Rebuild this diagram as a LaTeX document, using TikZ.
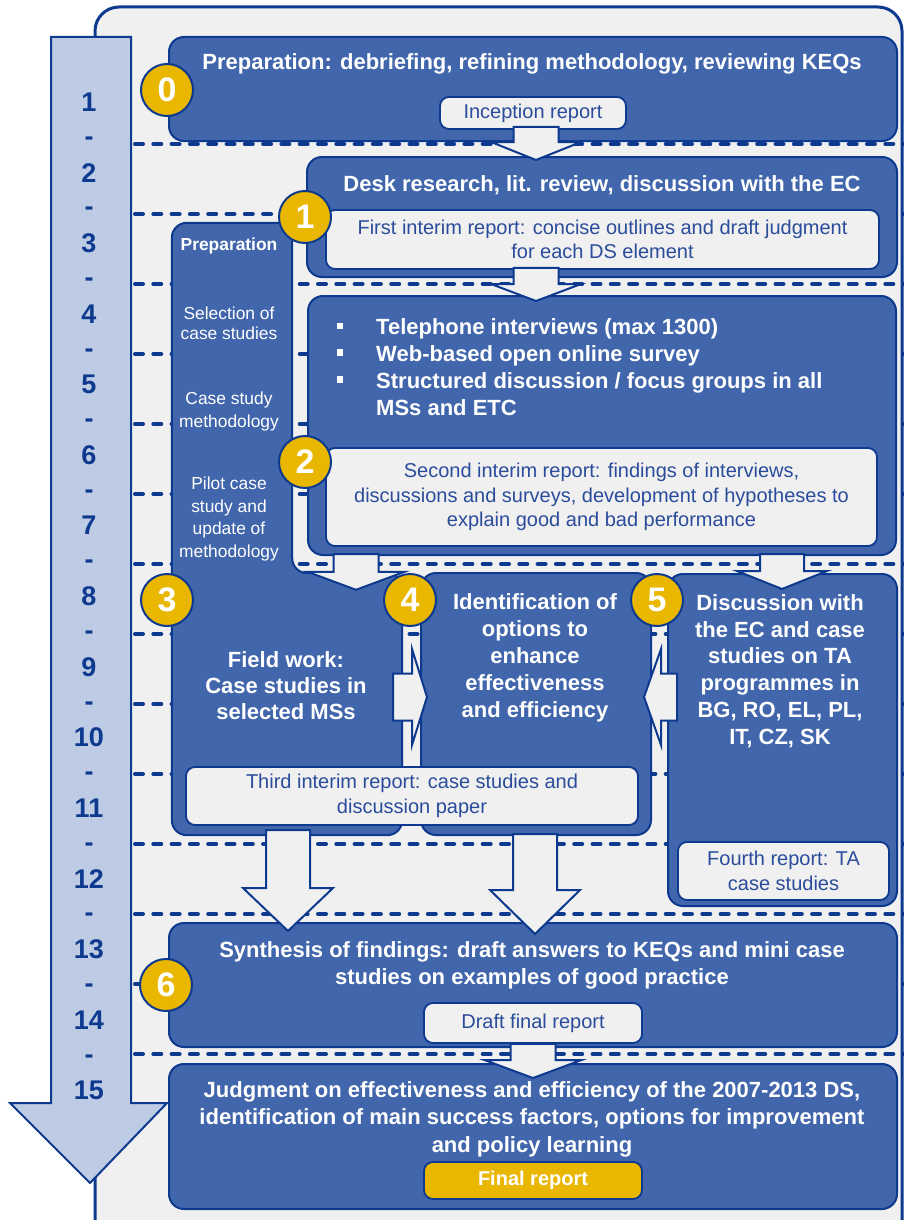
\documentclass[tikz,border=0pt]{standalone}
\usepackage{fontspec}
\setmainfont{Liberation Sans}
\usepackage{xcolor}
\usepackage{tikz}
\usetikzlibrary{calc,positioning}
\definecolor{edgeblue}{HTML}{0D3A8E}
\definecolor{boxblue}{HTML}{4166AB}
\definecolor{panelgray}{HTML}{F0F0F0}
\definecolor{gold}{HTML}{E9B600}
\definecolor{timeblue}{HTML}{BECBE4}
\definecolor{reporttext}{HTML}{2A4C9B}

\tikzset{
  stagebox/.style={draw=edgeblue,fill=boxblue,line width=2pt,rounded corners=15pt,inner sep=0pt},
  reportbox/.style={draw=edgeblue,fill=panelgray,line width=1.8pt,rounded corners=9pt,inner sep=0pt,
    text=reporttext,align=center,font=\fontsize{20}{24.5}\selectfont},
  finalbox/.style={reportbox,fill=gold,text=white,font=\fontsize{20}{24.5}\selectfont\bfseries},
  titletext/.style={text=white,align=center,inner sep=0pt,font=\fontsize{22}{26.8}\selectfont\bfseries},
  preptext/.style={text=white,align=center,inner sep=0pt,font=\fontsize{17.4}{22}\selectfont},
  stepdisc/.style={circle,draw=edgeblue,fill=gold,line width=2pt,minimum size=52pt,inner sep=0pt,
    text=white,font=\fontsize{34}{34}\selectfont\bfseries},
  monthnum/.style={text=edgeblue,inner sep=0pt,font=\fontsize{27}{27}\selectfont\bfseries},
  monthline/.style={draw=edgeblue,line width=4pt,line cap=round,dash pattern=on 8pt off 10.3pt},
  blockarrow/.style={draw=edgeblue,fill=panelgray,line width=2pt,line join=miter}
}

% block arrow: tail, tip, shaft half width, head half width, head length
\newcommand{\blockarrow}[5]{%
  \coordinate (ba-t) at (#1);
  \coordinate (ba-h) at (#2);
  \coordinate (ba-b) at ($(ba-h)!#5!(ba-t)$);
  \draw[blockarrow] ($(ba-t)!#3!90:(ba-h)$) -- ($(ba-b)!#3!-90:(ba-t)$)
    -- ($(ba-b)!#4!-90:(ba-t)$) -- (ba-h) -- ($(ba-b)!#4!90:(ba-t)$)
    -- ($(ba-b)!#3!90:(ba-t)$) -- ($(ba-t)!#3!-90:(ba-h)$) -- cycle;
}
\newcommand{\sqbullet}{\makebox[39.25pt][l]{\raisebox{5.5pt}{\rule{6.5pt}{6.5pt}}}}

\begin{document}
\begin{tikzpicture}[x=1pt,y=-1pt]
  \useasboundingbox (0,0) rectangle (904,1220);
  \clip (0,0) rectangle (904,1220);
  % background panel and month grid
  \draw[draw=edgeblue,fill=panelgray,line width=3pt,rounded corners=24pt] (95,7) rectangle (902,1245);
  \foreach \k in {0,...,13}
    \draw[monthline] (135,{144+70*\k}) -- (906,{144+70*\k});
  % time axis
  \draw[draw=edgeblue,fill=timeblue,line width=2pt,line join=miter]
    (51,37) -- (131,37) -- (131,1103) -- (167,1103) -- (90,1183) -- (10,1103) -- (51,1103) -- cycle;
  \foreach \m in {1,...,15}
    \node[monthnum] (m\m) at (89,{102+70.6*(\m-1)}) {\m};
  \foreach \m in {1,...,14}
    \node[monthnum] (d\m) at (89,{141+70.6*(\m-1)}) {-};

  % stages
  \node[stagebox,minimum width=728pt,minimum height=104pt] (s0) at (533,89) {};
  \node[stagebox,minimum width=590pt,minimum height=120pt] (s1) at (602,217) {};
  \node[stagebox,minimum width=588pt,minimum height=259pt] (s2) at (602,425.5) {};
  \node[minimum width=120pt,minimum height=350pt,inner sep=0pt] (prep) at (232,398) {};
  \node[minimum width=230pt,minimum height=262pt,inner sep=0pt] (s3) at (287,704) {};
  \draw[stagebox] (prep.north west) -- (prep.north east) -- (prep.south east)
    -- (s3.north east) -- (s3.south east) -- (s3.south west) -- cycle;
  \node[stagebox,minimum width=230pt,minimum height=262pt] (s4) at (536,704) {};
  \node[stagebox,minimum width=229pt,minimum height=332pt] (s5) at (782.5,740) {};
  \node[stagebox,minimum width=728pt,minimum height=124pt] (s6) at (533,985) {};
  \node[stagebox,minimum width=728pt,minimum height=145pt] (s7) at (533,1136.5) {};

  % reports
  \node[reportbox,minimum width=186pt,minimum height=32pt] (incep) at (533,113) {Inception report};
  \node[reportbox,minimum width=553pt,minimum height=59pt] (r1) at (602.5,239.5)
    {First interim report: concise outlines and draft judgment\\for each DS element};
  \node[reportbox,minimum width=551pt,minimum height=98pt] (r2) at (601.5,497)
    {Second interim report: findings of interviews,\\discussions and surveys, development of hypotheses to\\explain good and bad performance};
  \node[reportbox,minimum width=452pt,minimum height=58pt] (r3) at (412,796)
    {Third interim report: case studies and\\discussion paper};
  \node[reportbox,minimum width=211pt,minimum height=58pt] (r5) at (783.5,871)
    {Fourth report: TA\\case studies};
  \node[reportbox,minimum width=218pt,minimum height=40pt] (r6) at (533,1023) {Draft final report};
  \node[finalbox,minimum width=218pt,minimum height=37pt] (r7) at (533,1180.5) {Final report};

  % stage texts
  \node[titletext] (t0) at (532,64) {Preparation: debriefing, refining methodology, reviewing KEQs};
  \node[titletext] (t1) at (602,185) {Desk research, lit. review, discussion with the EC};
  \node[titletext,align=left,anchor=west] (t2) at (336.75,367)
    {\sqbullet Telephone interviews (max 1300)\\\sqbullet Web-based open online survey\\
     \sqbullet Structured discussion / focus groups in all\\\hspace*{39.25pt}MSs and ETC};
  \node[preptext,font=\fontsize{17.4}{22}\selectfont\bfseries] (p1) at (229,246) {Preparation};
  \node[preptext,font=\fontsize{17.4}{20}\selectfont] (p2) at (229,323) {Selection of\\case studies};
  \node[preptext,font=\fontsize{17.4}{23}\selectfont] (p3) at (229,411) {Case study\\methodology};
  \node[preptext,font=\fontsize{17.4}{22.7}\selectfont] (p4) at (229,519) {Pilot case\\study and\\update of\\methodology};
  \node[titletext,font=\fontsize{22}{26}\selectfont\bfseries] (t3) at (286,686) {Field work:\\Case studies in\\selected MSs};
  \node[titletext,font=\fontsize{22}{27}\selectfont\bfseries] (t4) at (535,658)
    {Identification of\\options to\\enhance\\effectiveness\\and efficiency};
  \node[titletext,font=\fontsize{22}{26.8}\selectfont\bfseries] (t5) at (780,671)
    {Discussion with\\the EC and case\\studies on TA\\programmes in\\BG, RO, EL, PL,\\IT, CZ, SK};
  \node[titletext,font=\fontsize{22}{27}\selectfont\bfseries] (t6) at (532,965)
    {Synthesis of findings: draft answers to KEQs and mini case\\studies on examples of good practice};
  \node[titletext,font=\fontsize{22}{27.5}\selectfont\bfseries] (t7) at (532,1119)
    {Judgment on effectiveness and efficiency of the 2007-2013 DS,\\identification of main success factors, options for improvement\\and policy learning};

  % flow between stages
  \blockarrow{$(incep.south)+(3,-3)$}{$(incep.south |- s1.north)+(3,4)$}{22.5pt}{45pt}{18pt}
  \blockarrow{$(incep.south |- r1.south)+(3,-2)$}{$(incep.south |- s2.north)+(3,6)$}{22.5pt}{45pt}{17pt}
  \blockarrow{$(s2.south)+(-246,-2)$}{$(s2.south |- s3.north)+(-246,17)$}{22.5pt}{48.5pt}{18pt}
  \blockarrow{$(s2.south -| s5.north)+(-0.5,-2)$}{$(s5.north)+(-0.5,16)$}{22pt}{45pt}{18pt}
  \blockarrow{$(s3.east)+(-9,-7)$}{$(s3.east -| s4.west)+(7,-7)$}{23.5pt}{48pt}{15pt}
  \blockarrow{$(s5.west |- s3.east)+(10,-7)$}{$(s4.east)+(-8,-7)$}{23.5pt}{48pt}{17pt}
  \blockarrow{$(s3.south)+(1,-5)$}{$(s3.south |- s6.north)+(1,9)$}{22pt}{45pt}{43pt}
  \blockarrow{$(s4.south)+(-1,-2)$}{$(s4.south |- s6.north)+(-1,12)$}{22pt}{45pt}{44pt}
  \blockarrow{$(r6.south)$}{$(s7.north)+(0,15)$}{22.5pt}{48.5pt}{18pt}

  % step numbers
  \node[stepdisc] (c0) at (167,90) {0};
  \node[stepdisc] (c1) at (305,217) {1};
  \node[stepdisc] (c2) at (305,462) {2};
  \node[stepdisc] (c3) at (167,600) {3};
  \node[stepdisc] (c4) at (410,600) {4};
  \node[stepdisc] (c5) at (657,600) {5};
  \node[stepdisc] (c6) at (166,985) {6};
\end{tikzpicture}
\end{document}
